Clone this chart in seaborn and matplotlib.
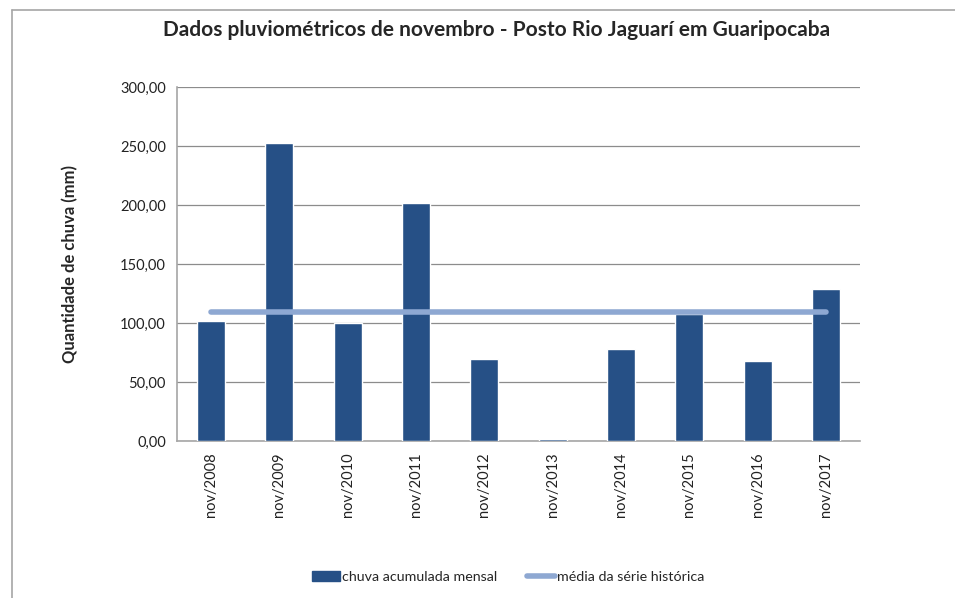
import pandas as pd
import numpy as np
import matplotlib.pyplot as plt
import seaborn as sns
from matplotlib.lines import Line2D
from matplotlib.patches import Patch

# dados
meses = ['nov/2008', 'nov/2009', 'nov/2010', 'nov/2011', 'nov/2012',
         'nov/2013', 'nov/2014', 'nov/2015', 'nov/2016', 'nov/2017']
chuva = [101.7, 252.5, 100.0, 201.7, 69.5, 1.5, 78.0, 108.0, 67.8, 128.8]
media = [109.3] * len(meses)

df = pd.DataFrame({'mes': meses, 'chuva': chuva, 'media': media})

sns.set_style('white')
plt.rcParams['font.family'] = ['Lato', 'DejaVu Sans']

cor_barra = '#265086'
cor_linha = '#8ea8d2'

fig = plt.figure(figsize=(9.55, 5.98), dpi=100)
ax = fig.add_axes([177 / 955, 1 - 441 / 598, 683 / 955, 354 / 598])

sns.barplot(data=df, x='mes', y='chuva', color=cor_barra, saturation=1,
            width=0.41, ax=ax, zorder=3)
ax.plot(range(len(meses)), df['media'], color=cor_linha, lw=4,
        solid_capstyle='round', zorder=4)

ax.set_ylim(0, 300)
ax.set_xlim(-0.5, len(meses) - 0.5)
ax.set_yticks(np.arange(0, 301, 50))
ax.set_yticklabels([f'{v:.2f}'.replace('.', ',') for v in np.arange(0, 301, 50)],
                   fontsize=10.5, color='#222222')
ax.set_xticks(range(len(meses)))
ax.set_xticklabels(meses, rotation=90, fontsize=10.5, color='#222222')
ax.tick_params(axis='both', length=0, pad=8)
ax.grid(axis='y', color='#8c8c8c', lw=0.9, zorder=0)
for s in ['top', 'right']:
    ax.spines[s].set_visible(False)
for s in ['left', 'bottom']:
    ax.spines[s].set_color('#a6a6a6')
    ax.spines[s].set_linewidth(1.2)
ax.set_xlabel('')
ax.set_ylabel('Quantidade de chuva (mm)', fontsize=12, fontweight='bold',
              labelpad=30)

fig.text(497 / 955, 1 - 30 / 598,
         'Dados pluviométricos de novembro - Posto Rio Jaguarí em Guaripocaba',
         ha='center', va='center', fontsize=15, fontweight='bold')

# moldura externa
fig.add_artist(Line2D([12 / 955, 1], [1 - 10 / 598, 1 - 10 / 598],
                      color='#a6a6a6', lw=1.2))
fig.add_artist(Line2D([12 / 955, 12 / 955], [0, 1 - 10 / 598],
                      color='#a6a6a6', lw=1.2))

handles = [Patch(color=cor_barra, label='chuva acumulada mensal'),
           Line2D([0], [0], color=cor_linha, lw=4, label='média da série histórica')]
fig.legend(handles=handles, loc='center', bbox_to_anchor=(508 / 955, 1 - 577 / 598),
           ncol=2, frameon=False, fontsize=10.3, handlelength=1.95,
           handletextpad=0.15, columnspacing=2.1)

fig.savefig('out.png', dpi=100)
